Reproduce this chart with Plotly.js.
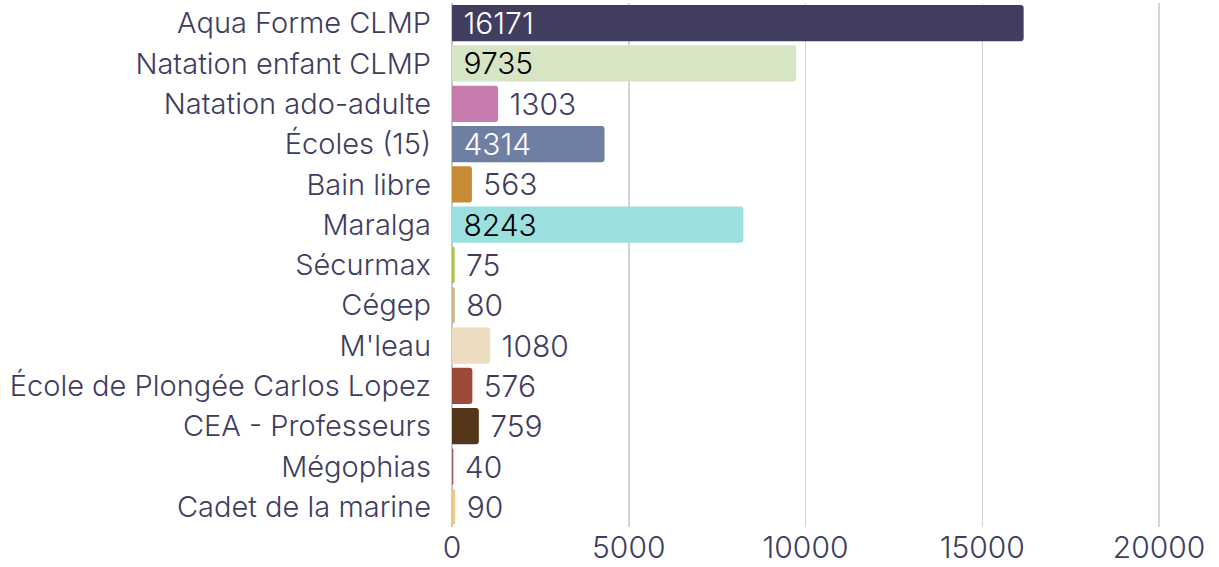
<!DOCTYPE html>
<html><head><meta charset="utf-8">
<script src="https://cdn.plot.ly/plotly-3.0.1.min.js"></script>
<style>body{margin:0;background:#fff}#chart{width:1219px;height:567px}</style>
</head><body><div id="chart"></div>
<script>
const categories = ["Aqua Forme CLMP","Natation enfant CLMP","Natation ado-adulte","Écoles (15)","Bain libre","Maralga","Sécurmax","Cégep","M'leau","École de Plongée Carlos Lopez","CEA - Professeurs","Mégophias","Cadet de la marine"];
const values = [16171,9735,1303,4314,563,8243,75,80,1080,576,759,40,90];
const colors = ["#403d5e","#d6e5c3","#c67dad","#6e7fa3","#c98a35","#9bdfdf","#a8c24a","#c9b98a","#ecdcc0","#9b4a3a","#553619","#a06060","#ecc88a"];
const insideColors = ["#ffffff","#000000","#ffffff","#ffffff","#ffffff","#000000","#ffffff","#ffffff","#000000","#ffffff","#ffffff","#ffffff","#000000"];
const textColor = "#3e3d60";
const FONT = "Inter, Lato, sans-serif";
Plotly.newPlot("chart", [{
  type: "bar", orientation: "h",
  x: values, y: categories,
  text: values.map(v => "\u00a0" + v),
  textposition: "auto",
  insidetextanchor: "start",
  outsidetextfont: {color: textColor, size: 30, family: FONT, weight: 300},
  insidetextfont: {color: insideColors, size: 30, family: FONT, weight: 300},
  constraintext: "none",
  cliponaxis: false,
  marker: {color: colors, cornerradius: 3},
  hoverinfo: "none"
}], {
  width: 1219, height: 567,
  margin: {l: 452, r: 19, t: 3, b: 40},
  paper_bgcolor: "#fff", plot_bgcolor: "#fff",
  font: {family: FONT, size: 29, color: textColor, weight: 300},
  bargap: 0.1,
  showlegend: false,
  xaxis: {range: [0, 21160], tickvals: [0,5000,10000,15000,20000], ticktext: ["0","5000","10000","15000","20000"],
          gridcolor: "#d3d3da", gridwidth: 1.5, zeroline: true, zerolinecolor: "#c8c8d0", zerolinewidth: 1.5,
          showline: false, ticks: "", ticklen: 0, tickfont: {size: 30, weight: 300}},
  yaxis: {autorange: "reversed", ticks: "", ticklen: 0, ticklabelstandoff: 20, automargin: false, tickfont: {size: 29, weight: 300}}
}, {displayModeBar: false, staticPlot: true});
</script></body></html>
